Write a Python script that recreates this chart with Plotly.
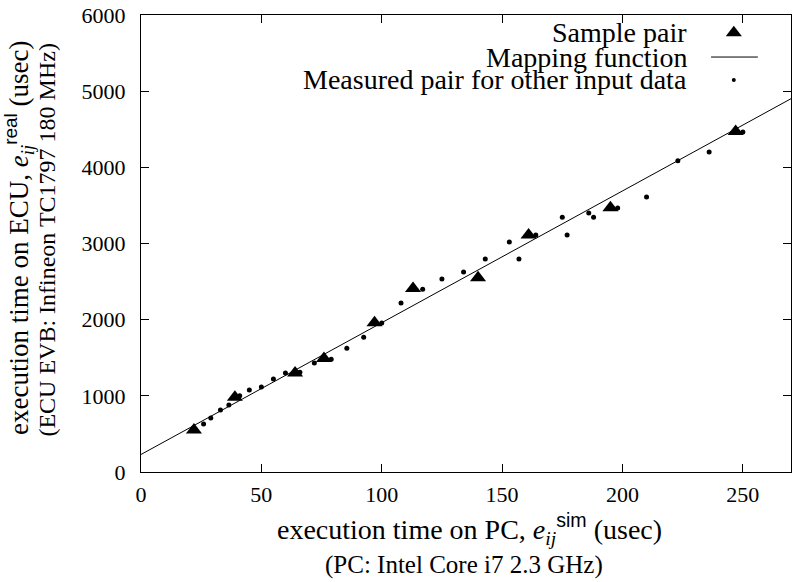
import numpy as np
import plotly.graph_objects as go

# ---- data ----
sample_x = [22, 39, 64, 76, 97, 113, 140, 161, 195, 247]
sample_y = [550, 980, 1300, 1490, 1960, 2410, 2550, 3110, 3470, 4470]

measured_x = [26, 29, 33, 36.5, 41, 45, 50, 55, 60, 66, 72, 79, 85.5, 92.5, 100,
              108, 117, 125, 134, 143, 153, 157, 164, 175, 177, 186, 188, 198,
              210, 223, 236, 250]
measured_y = [630, 710, 815, 880, 1000, 1075, 1115, 1220, 1300, 1310, 1430, 1480,
              1625, 1770, 1955, 2220, 2400, 2535, 2625, 2795, 3020, 2795, 3110,
              3345, 3110, 3400, 3345, 3465, 3610, 4085, 4200, 4465]

map_slope = 17.3
map_intercept = 230
map_x = [0, 270]

x_ticks = [0, 50, 100, 150, 200, 250]
y_ticks = [0, 1000, 2000, 3000, 4000, 5000, 6000]

legend_labels = ["Sample pair", "Mapping function", "Measured pair for other input data"]

FONT = "Liberation Serif"
SANS = "Liberation Sans"

fig = go.Figure()

fig.add_trace(go.Scatter(
    x=map_x, y=list(map_intercept + map_slope * np.array(map_x)),
    mode="lines", line=dict(color="black", width=1), showlegend=False, hoverinfo="skip"))

fig.add_trace(go.Scatter(
    x=measured_x, y=measured_y, mode="markers",
    marker=dict(symbol="circle", size=5, color="black"), showlegend=False))

fig.add_trace(go.Scatter(
    x=sample_x, y=sample_y, mode="markers",
    marker=dict(symbol="triangle-up", size=14, color="black", line=dict(width=0)),
    showlegend=False))

# ---- legend (gnuplot style: text on left, key on right) ----
row_y = [0.961, 0.908, 0.858]
for yy, lab in zip(row_y, legend_labels):
    fig.add_annotation(x=0.8415, y=yy, xref="paper", yref="paper",
                       text=lab, showarrow=False, xanchor="right", yanchor="middle",
                       borderpad=0,
                       font=dict(family=FONT, size=28, color="black"))

fig.add_trace(go.Scatter(x=[0.912], y=[row_y[0]], xaxis="x2", yaxis="y2", mode="markers",
                         marker=dict(symbol="triangle-up", size=14, color="black"),
                         showlegend=False, hoverinfo="skip"))
fig.add_trace(go.Scatter(x=[0.877, 0.949], y=[row_y[1]] * 2, xaxis="x2", yaxis="y2",
                         mode="lines", line=dict(color="black", width=1),
                         showlegend=False, hoverinfo="skip"))
fig.add_trace(go.Scatter(x=[0.912], y=[row_y[2]], xaxis="x2", yaxis="y2",
                         mode="markers", marker=dict(symbol="circle", size=4, color="black"),
                         showlegend=False, hoverinfo="skip"))

axis_common = dict(
    showgrid=False, zeroline=False, showline=True, linecolor="black", linewidth=1.3,
    mirror="ticks", ticks="inside", ticklen=8, tickcolor="black", tickwidth=1,
    tickfont=dict(family=FONT, size=22, color="black"), automargin=False,
    ticklabeloverflow="allow",
)

fig.update_layout(
    width=793, height=582,
    margin=dict(l=141, r=2, t=15, b=110),
    paper_bgcolor="white", plot_bgcolor="white",
    xaxis=dict(range=[0, 270], tickvals=x_ticks, ticklabelstandoff=2, **axis_common),
    yaxis=dict(range=[0, 6000], tickvals=y_ticks, ticklabelstandoff=10, **axis_common),
    xaxis2=dict(range=[0, 1], overlaying="x", visible=False, fixedrange=True),
    yaxis2=dict(range=[0, 1], overlaying="y", visible=False, fixedrange=True),
    showlegend=False,
)

sim = f'<span style="font-family:{SANS}">sim</span>'
real = f'<span style="font-family:{SANS}">real</span>'

# axis titles
fig.add_annotation(x=0.505, y=-0.1247, xref="paper", yref="paper", yanchor="middle",
                   text=f"execution time on PC, <i>e</i><sub><i>ij</i></sub><sup>{sim}</sup> (usec)",
                   showarrow=False, font=dict(family=FONT, size=28, color="black"))
fig.add_annotation(x=0.497, y=-0.2035, xref="paper", yref="paper", yanchor="middle",
                   text="(PC: Intel Core i7 2.3 GHz)", showarrow=False,
                   font=dict(family=FONT, size=25, color="black"))
fig.add_annotation(x=-0.1877, y=0.512, xref="paper", yref="paper", xanchor="center",
                   textangle=-90,
                   text=f"execution time on ECU, <i>e</i><sub><i>ij</i></sub><sup>{real}</sup> (usec)",
                   showarrow=False, font=dict(family=FONT, size=27, color="black"))
fig.add_annotation(x=-0.145, y=0.508, xref="paper", yref="paper", xanchor="center",
                   textangle=-90,
                   text="(ECU EVB: Infineon TC1797 180 MHz)", showarrow=False,
                   font=dict(family=FONT, size=24, color="black"))

# remove the default page margin so the figure sits at the window's top-left corner
fig.write_html("out.html", config={"displayModeBar": False},
               post_script="document.body.style.margin='0';")
